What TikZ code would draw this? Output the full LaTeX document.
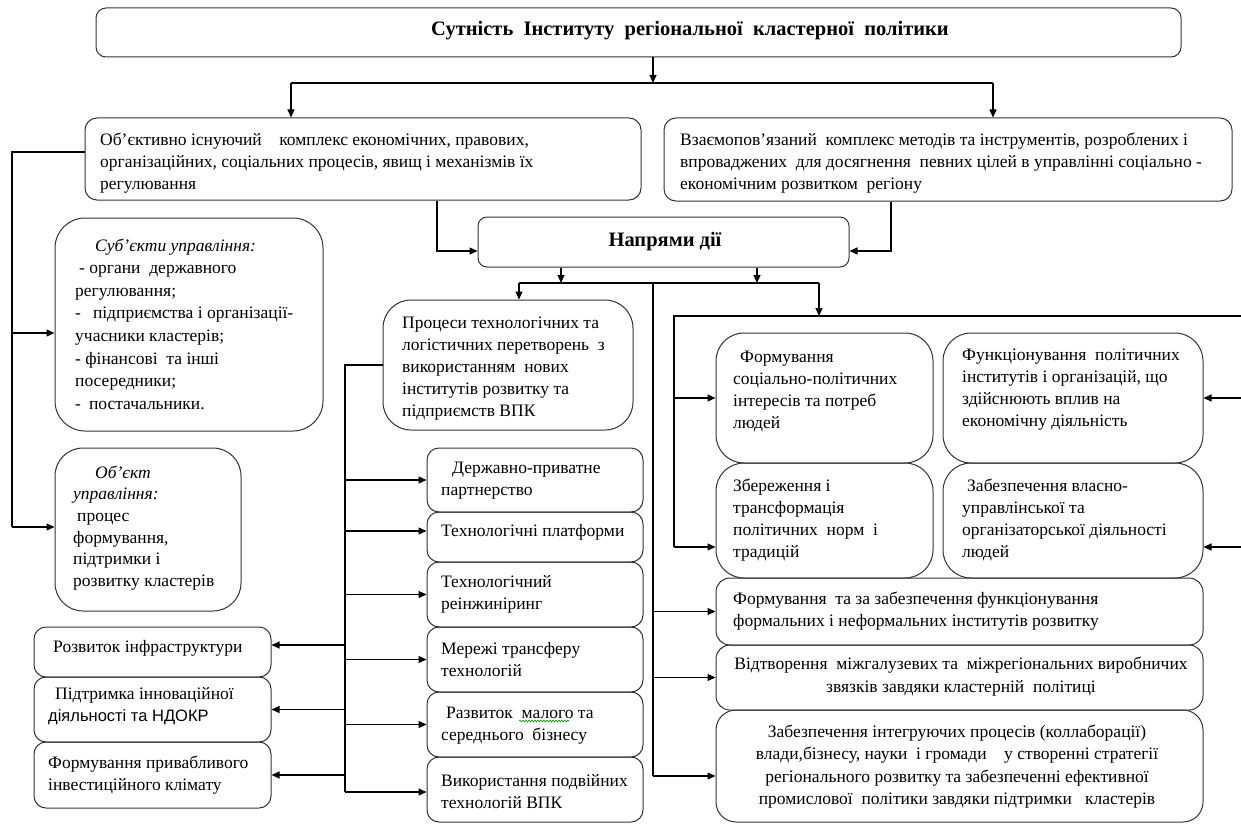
\documentclass[tikz,border=0pt]{standalone}
\usepackage{fontspec}
\setmainfont{Liberation Serif}
\newfontfamily\sansf{Liberation Sans}
\usetikzlibrary{arrows.meta,fit,decorations.pathmorphing}
\begin{document}
\begin{tikzpicture}[x=1pt,y=-1pt,
  bx/.style={draw=black!80, line width=1pt, inner sep=0pt, rounded corners=#1},
  bx/.default=10pt,
  tx/.style={inner sep=0pt, align=left, anchor=west, font=\fontsize{17.5}{22}\selectfont},
  tc/.style={inner sep=0pt, align=center, anchor=center, font=\fontsize{17.5}{22.5}\selectfont},
  hd/.style={inner sep=0pt, align=center, anchor=center, font=\fontsize{20.5}{24}\selectfont\bfseries},
  ln/.style={line width=1.1pt, draw=black},
  arr/.style={ln, -{Triangle[length=8pt,width=7pt]}},
  spell/.style={draw=green!55!black, line width=0.6pt, decorate, decoration={snake, amplitude=0.9pt, segment length=3pt}}
]
\useasboundingbox (0,0) rectangle (1241,824);

% ---------- boxes ----------
\node[bx=10pt, fit={(96,8) (1181,57)}] (title) {};
\node[bx=12pt, fit={(85,118) (641,200)}] (A) {};
\node[bx=12pt, fit={(664,118) (1232,201)}] (B) {};
\node[bx=9pt, fit={(478,217) (849,267)}] (N) {};
\node[bx=30pt, fit={(55,218) (323,431)}] (S) {};
\node[bx=28pt, fit={(55,448) (241,611)}] (O) {};
\node[bx=28pt, fit={(383,300) (633,430)}] (P) {};
\node[bx=12pt, fit={(427,448) (643,512)}] (M1) {};
\node[bx=12pt, fit={(427,512) (643,562)}] (M2) {};
\node[bx=12pt, fit={(427,562) (643,627)}] (M3) {};
\node[bx=12pt, fit={(427,627) (643,692)}] (M4) {};
\node[bx=12pt, fit={(427,692) (643,757)}] (M5) {};
\node[bx=12pt, fit={(427,757) (643,822)}] (M6) {};
\node[bx=12pt, fit={(34,627) (271,677)}] (L1) {};
\node[bx=12pt, fit={(34,677) (271,742)}] (L2) {};
\node[bx=12pt, fit={(34,742) (271,808)}] (L3) {};
\node[bx=28pt, fit={(716,333) (933,463)}] (F1) {};
\node[bx=28pt, fit={(943,333) (1203,463)}] (F2) {};
\node[bx=28pt, fit={(716,463) (933,578)}] (F3) {};
\node[bx=28pt, fit={(943,463) (1203,578)}] (F4) {};
\node[bx=14pt, fit={(716,578) (1203,645)}] (F5) {};
\node[bx=14pt, fit={(716,645) (1203,710)}] (F6) {};
\node[bx=20pt, fit={(716,710) (1203,822)}] (F7) {};

% ---------- texts ----------
\node[hd] (titleT) at (690,31) {Сутність\ \ Інституту\ \ регіональної\ \ кластерної\ \ політики};
\node[hd] (NT) at (665,242) {Напрями дії};
\node[tx] (AT) at (100,163) {Об’єктивно існуючий\ \ \ \ комплекс економічних, правових,\\організаційних, соціальних процесів, явищ і механізмів їх\\регулювання};
\node[tx] (BT) at (680,163) {Взаємопов’язаний\ \ комплекс методів та інструментів, розроблених і\\впроваджених\ \ для досягнення\ \ певних цілей в управлінні соціально -\\економічним розвитком\ \ регіону};
\node[tx, font=\fontsize{17.5}{22.6}\selectfont] (ST) at (75,324) {\hspace*{20pt}\textit{Суб’єкти управління:}\\\hspace*{4pt}- органи\ \ державного\\регулювання;\\-\hspace*{12pt}підприємства і організації-\\учасники кластерів;\\- фінансові\ \ та інші\\посередники;\\-\hspace*{8pt}постачальники.};
\node[tx, font=\fontsize{17.5}{21.6}\selectfont] (OT) at (73,528) {\hspace*{22pt}\textit{Об’єкт}\\\textit{управління:}\\\hspace*{4pt}процес\\формування,\\підтримки і\\розвитку кластерів};
\node[tx] (PT) at (402,369) {Процеси технологічних та\\логістичних перетворень\ \ з\\використанням\ \ нових\\інститутів розвитку та\\підприємств ВПК};
\node[tx] (M1T) at (441,480.5) {\hspace*{11pt}Державно-приватне\\партнерство};
\node[tx] (M2T) at (441,532) {Технологічні платформи};
\node[tx] (M3T) at (441,594.5) {Технологічний\\реінжиніринг};
\node[tx] (M4T) at (441,660) {Мережі трансферу\\технологій};
\node[tx] (M5T) at (441,726) {\hspace*{5pt}Развиток\ \ малого та\\середнього\ \ бізнесу};
\node[tx] (M6T) at (441,791.5) {Використання подвійних\\технологій ВПК};
\node[tx] (L1T) at (53,648) {Розвиток інфраструктури};
\node[tx] (L2T) at (48,706.5) {\hspace*{7pt}Підтримка інноваційної\\{\sansf\fontsize{16.5}{22}\selectfont діяльності та НДОКР}};
\node[tx] (L3T) at (48,775) {Формування привабливого\\інвестиційного клімату};
\node[tx] (F1T) at (733,391) {\hspace*{7pt}Формування\\соціально-політичних\\інтересів та потреб\\людей};
\node[tx] (F2T) at (962,390) {Функціонування\ \ політичних\\інститутів і організацій, що\\здійснюють вплив на\\економічну діяльність};
\node[tx] (F3T) at (733,520) {Збереження і\\трансформація\\політичних\ \ норм\ \ і\\традицій};
\node[tx] (F4T) at (962,520) {\hspace*{5pt}Забезпечення власно-\\управлінської та\\організаторської діяльності\\людей};
\node[tx] (F5T) at (733,611.5) {Формування\ \ та за забезпечення функціонування\\формальних і неформальних інститутів розвитку};
\node[tc] (F6T) at (961,676.5) {Відтворення\ \ міжгалузевих та\ \ міжрегіональних виробничих\\звязків завдяки кластерній\ \ політиці};
\node[tc] (F7T) at (957,766.5) {Забезпечення інтегруючих процесів (коллаборації)\\влади,бізнесу, науки\ \ і громади\ \ \ \ у створенні стратегії\\регіонального розвитку та забезпеченні ефективної\\промислової\ \ політики завдяки підтримки\ \ \ кластерів};

% spell-check mark under "малого"
\coordinate (sp1) at (519,721);
\coordinate (sp2) at (569,721);
\draw[spell] (sp1) -- (sp2);

% ---------- connectors ----------
\coordinate (s0) at (653,83);
\coordinate (sL) at (291,83);
\coordinate (sR) at (993,83);
\draw[arr] (title.south -| s0) -- (s0);
\draw[ln] (sL) -- (sR);
\draw[arr] (sL) -- (sL |- A.north);
\draw[arr] (sR) -- (sR |- B.north);

\coordinate (a1) at (437,251);
\draw[arr] (a1 |- A.south) -- (a1) -- (a1 -| N.west);
\coordinate (b1) at (891,251);
\draw[arr] (b1 |- B.south) -- (b1) -- (b1 -| N.east);

\coordinate (n1) at (561,283);
\coordinate (n2) at (757,283);
\coordinate (nL) at (519,283);
\coordinate (nR) at (819,283);
\coordinate (nM) at (653,283);
\draw[arr] (n1 |- N.south) -- (n1);
\draw[arr] (n2 |- N.south) -- (n2);
\draw[ln] (nL) -- (nR);
\draw[arr] (nL) -- (nL |- P.north);
\coordinate (fr) at (819,316);
\draw[arr] (nR) -- (fr);

% right frame
\coordinate (frL) at (674,316);
\coordinate (frR) at (1241,316);
\coordinate (frB) at (674,547);
\draw[ln] (frR) -- (frL) -- (frB);
\draw[arr] (frL |- F1.west) -- (F1.west);
\draw[arr] (frB) -- (frB -| F3.west);
\coordinate (rr1) at (1241,398);
\coordinate (rr2) at (1241,547);
\draw[arr] (rr1) -- (rr1 -| F2.east);
\draw[arr] (rr2) -- (rr2 -| F4.east);

% central vertical
\coordinate (mB) at (653,776);
\draw[ln] (nM) -- (mB);
\draw[arr] (nM |- F5.west) -- (F5.west);
\draw[arr] (nM |- F6.west) -- (F6.west);
\draw[arr] (mB) -- (mB -| F7.west);

% left side
\coordinate (l0) at (12,152);
\coordinate (l1) at (12,333);
\coordinate (l2) at (12,527);
\draw[ln] (A.west |- l0) -- (l0) -- (l2);
\draw[arr] (l1) -- (l1 -| S.west);
\draw[arr] (l2) -- (l2 -| O.west);

% processes
\coordinate (p0) at (345,365);
\coordinate (p1) at (345,792);
\coordinate (p2) at (345,531);
\coordinate (p3) at (345,645);
\draw[ln] (P.west |- p0) -- (p0) -- (p1);
\draw[arr] (p0 |- M1.west) -- (M1.west);
\draw[arr] (p2) -- (p2 -| M2.west);
\draw[arr] (p0 |- M3.west) -- (M3.west);
\draw[arr] (p0 |- M4.west) -- (M4.west);
\draw[arr] (p0 |- M5.west) -- (M5.west);
\draw[arr] (p1) -- (p1 -| M6.west);
\draw[arr] (p3) -- (p3 -| L1.east);
\draw[arr] (p0 |- L2.east) -- (L2.east);
\draw[arr] (p0 |- L3.east) -- (L3.east);
\end{tikzpicture}
\end{document}
